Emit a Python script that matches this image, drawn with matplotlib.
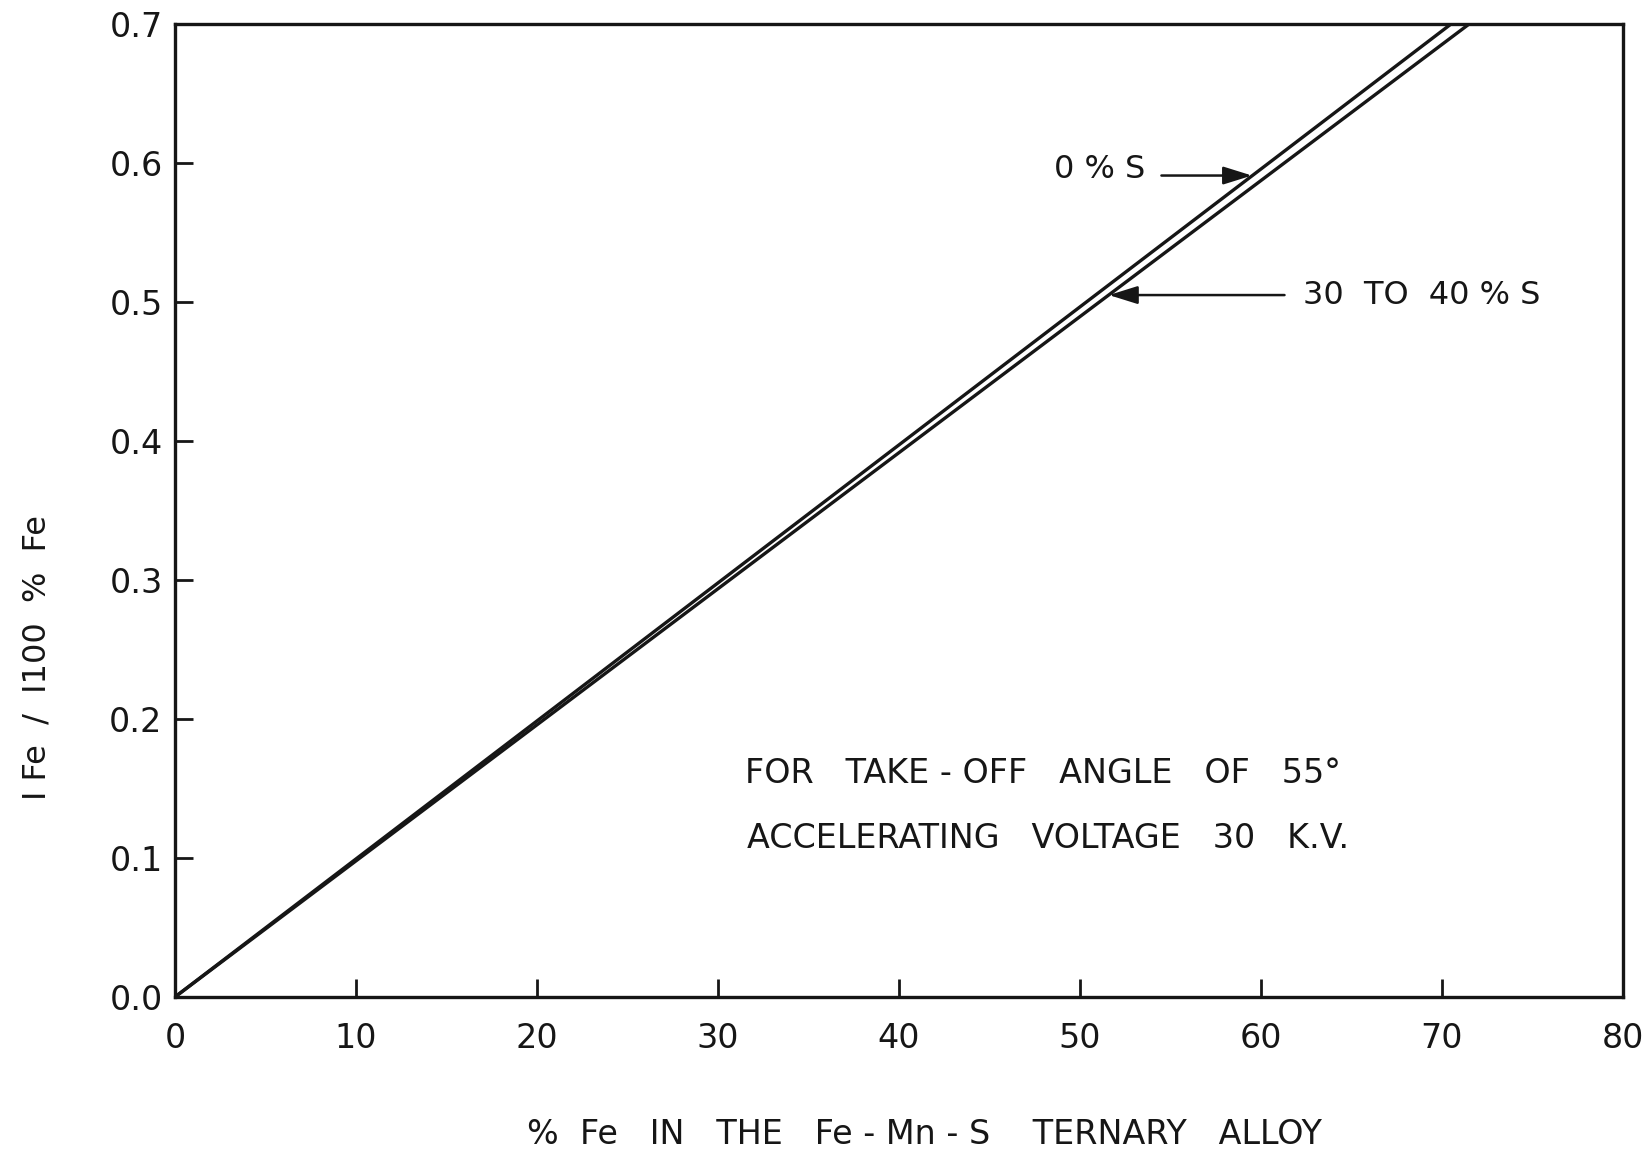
import matplotlib
matplotlib.use("Agg")
import matplotlib.pyplot as plt

# Data
fe_pct = [0, 10, 20, 30, 40, 50, 60, 70.5]
ratio_0S = [0.0, 0.0993, 0.1986, 0.2979, 0.3972, 0.4965, 0.5957, 0.70]
fe_pct_b = [0, 10, 20, 30, 40, 50, 60, 71.5]
ratio_30_40S = [0.0, 0.0979, 0.1958, 0.2937, 0.3916, 0.4895, 0.5874, 0.70]

x_ticks = [0, 10, 20, 30, 40, 50, 60, 70, 80]
x_tick_labels = ["0", "10", "20", "30", "40", "50", "60", "70", "80"]
y_ticks = [0.0, 0.1, 0.2, 0.3, 0.4, 0.5, 0.6, 0.7]
y_tick_labels = ["0.0", "0.1", "0.2", "0.3", "0.4", "0.5", "0.6", "0.7"]

ink = "#161616"
plt.rcParams['font.family'] = ['DejaVu Sans']

fig = plt.figure(figsize=(16.45, 11.56), dpi=100)
ax = fig.add_axes([0.1064, 0.1376, 0.8802, 0.8416])

ax.plot(fe_pct, ratio_0S, color=ink, lw=2.4, solid_capstyle='butt')
ax.plot(fe_pct_b, ratio_30_40S, color=ink, lw=2.4, solid_capstyle='butt')

ax.set_xlim(0, 80)
ax.set_ylim(0, 0.7)
ax.set_xticks(x_ticks)
ax.set_xticklabels(x_tick_labels)
ax.set_yticks(y_ticks)
ax.set_yticklabels(y_tick_labels)
ax.tick_params(axis='both', direction='in', length=13, width=2.0, color=ink,
               labelsize=24, labelcolor=ink)
ax.tick_params(axis='x', pad=18)
ax.tick_params(axis='y', pad=9)
for s in ax.spines.values():
    s.set_linewidth(2.4)
    s.set_color(ink)

# Annotations
ax.annotate("", xy=(59.5, 0.591), xytext=(54.5, 0.591),
            arrowprops=dict(arrowstyle='-|>,head_length=0.8,head_width=0.25',
                            color=ink, lw=1.8,
                            mutation_scale=22, shrinkA=0, shrinkB=0,
                            facecolor='#555555'))
ax.text(53.6, 0.595, "0 % S", ha='right', va='center', fontsize=23, color=ink)

ax.annotate("", xy=(51.6, 0.505), xytext=(61.3, 0.505),
            arrowprops=dict(arrowstyle='-|>,head_length=0.8,head_width=0.25',
                            color=ink, lw=1.8,
                            mutation_scale=22, shrinkA=0, shrinkB=0,
                            facecolor='#555555'))
ax.text(62.3, 0.505, "30  TO  40 % S", ha='left', va='center', fontsize=23, color=ink)

ax.text(31.5, 0.161, "FOR   TAKE - OFF   ANGLE   OF   55°", ha='left', va='center',
        fontsize=24, color=ink)
ax.text(31.6, 0.114, "ACCELERATING   VOLTAGE   30   K.V.", ha='left', va='center',
        fontsize=24, color=ink)

fig.text(37 / 1645, 1 - 658 / 1156, "I Fe  /  I100  %  Fe", rotation=90,
         ha='center', va='center', fontsize=23, color=ink)
fig.text(924 / 1645, 1 - 1135 / 1156, "%  Fe   IN   THE   Fe - Mn - S    TERNARY   ALLOY",
         ha='center', va='center', fontsize=24, color=ink)

fig.savefig("out.png", dpi=100, facecolor='white')
